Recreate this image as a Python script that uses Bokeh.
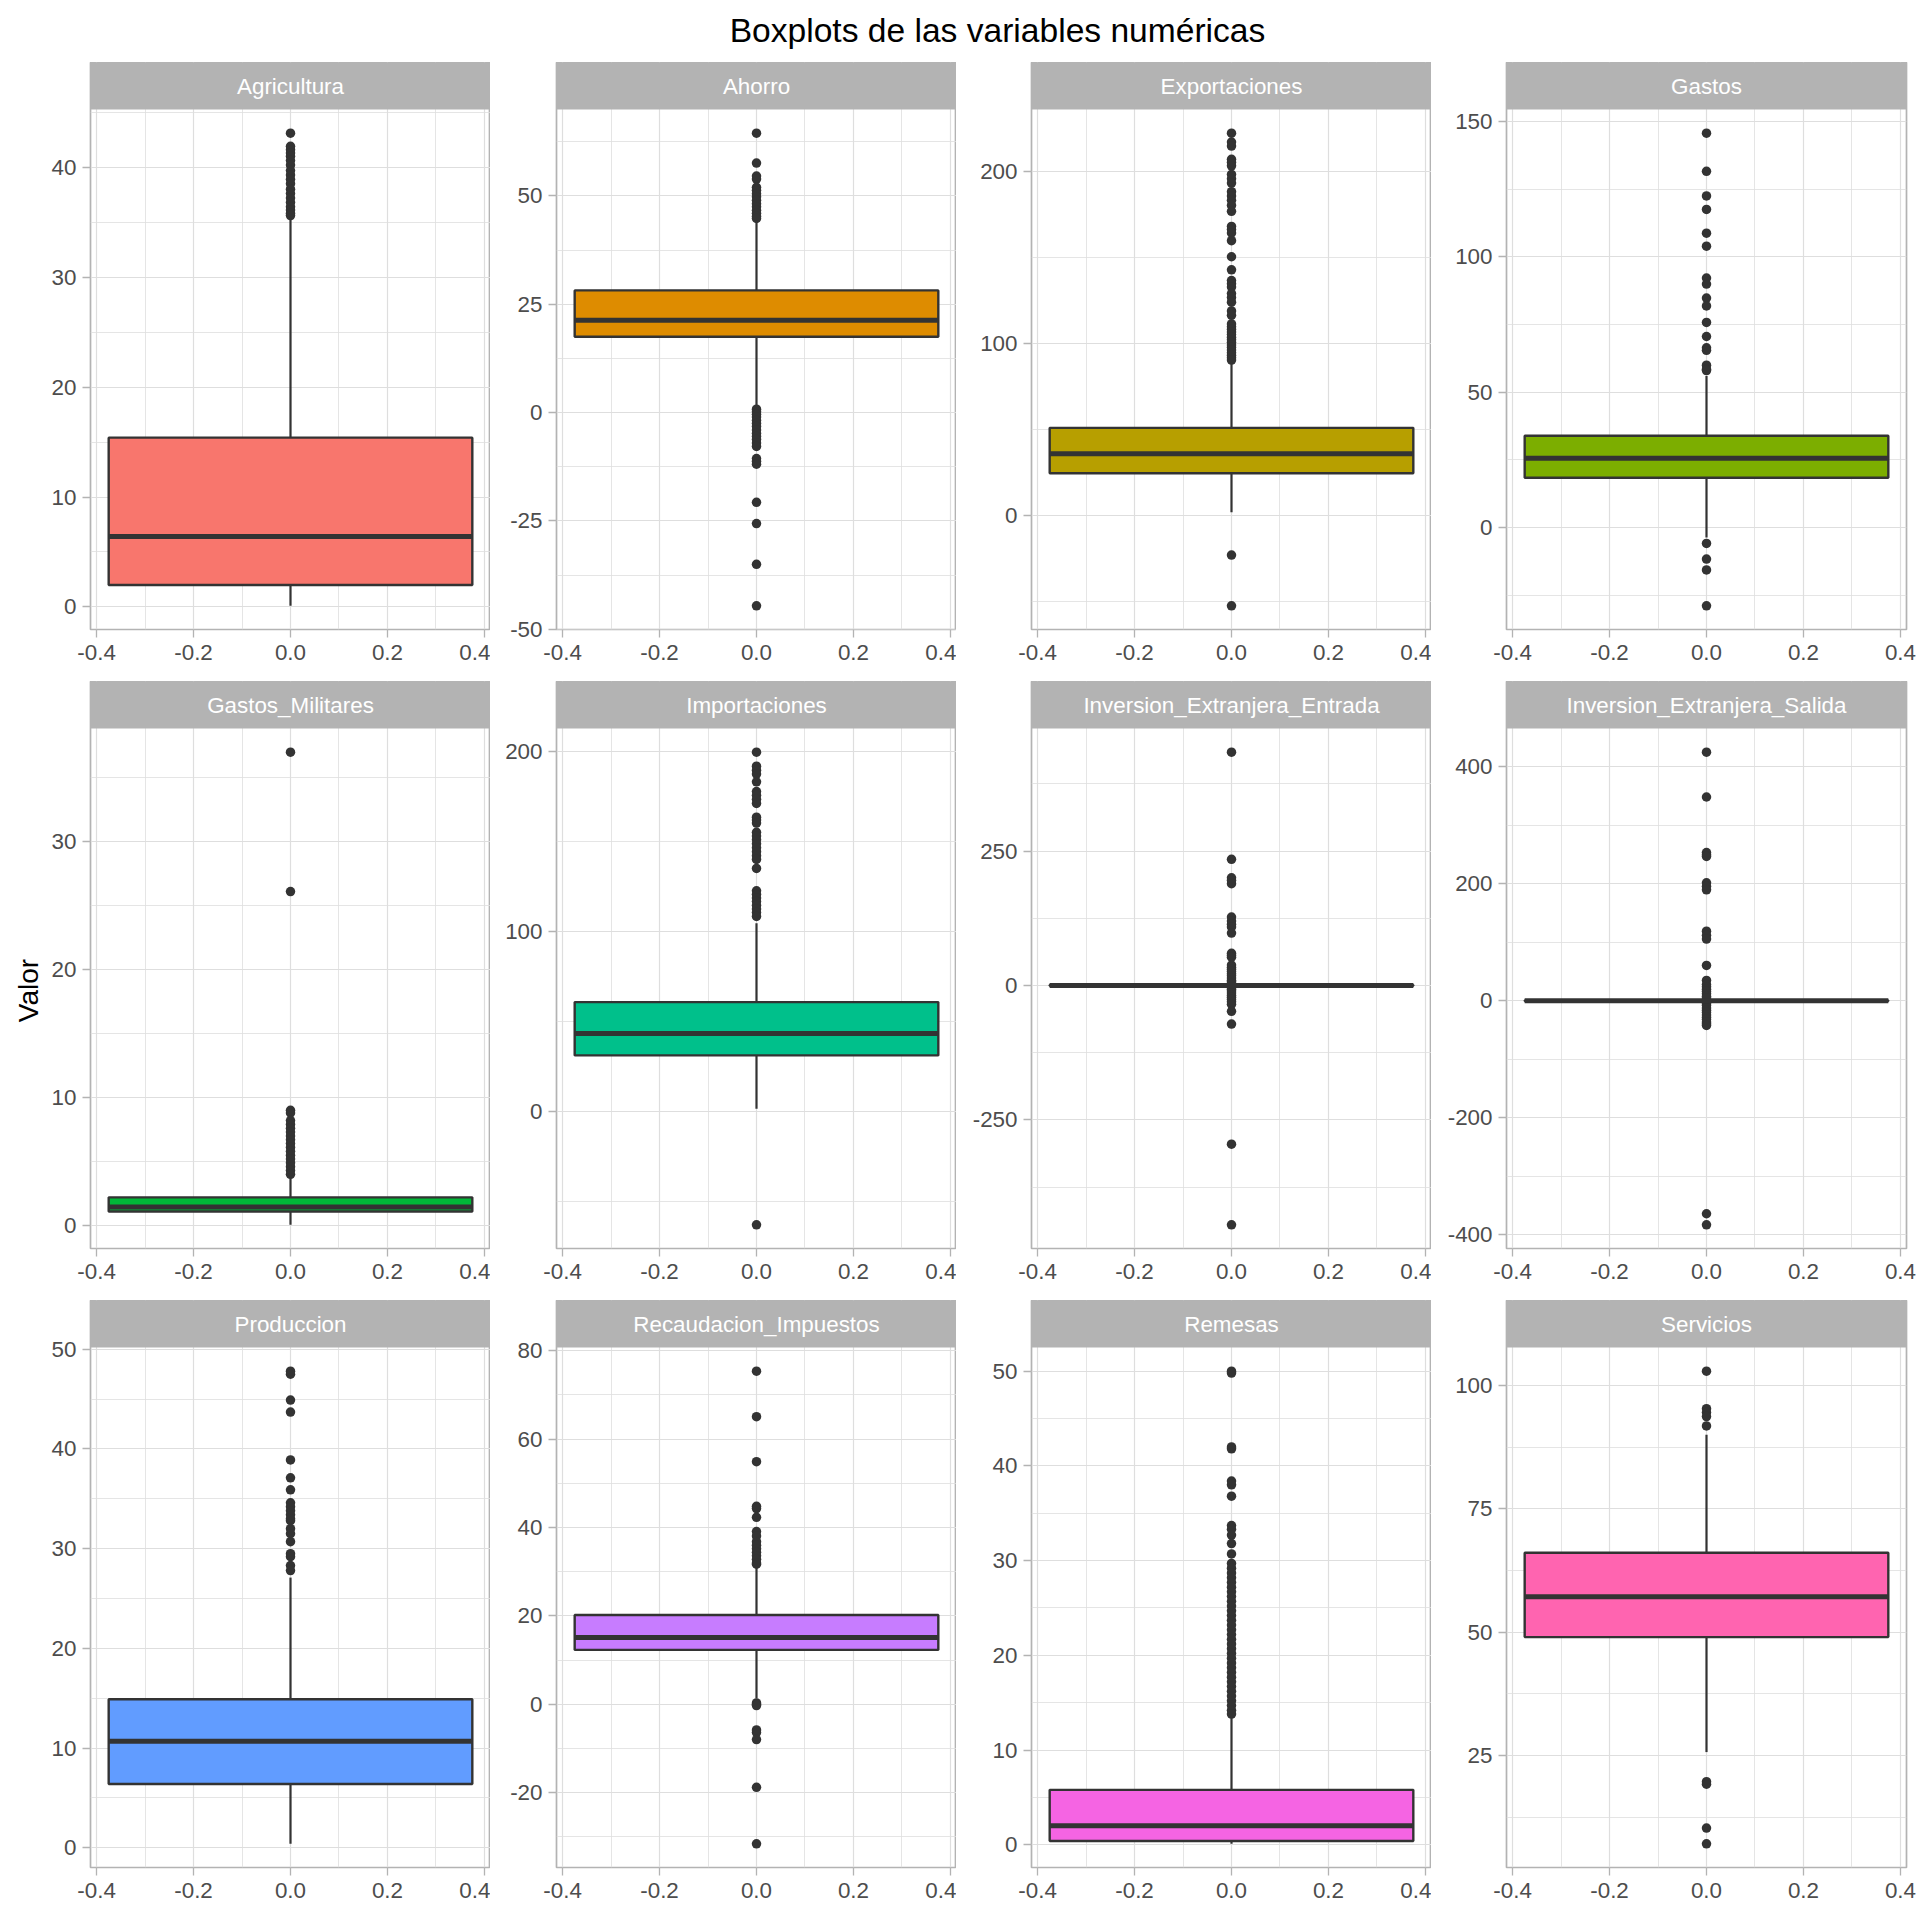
import math
from bokeh.plotting import figure
from bokeh.layouts import row, column
from bokeh.models import Range1d, FixedTicker, NumeralTickFormatter, Label
from bokeh.embed import file_html
from bokeh.resources import INLINE

# ---------------- data ----------------
variables = ["Agricultura", "Ahorro", "Exportaciones", "Gastos",
             "Gastos_Militares", "Importaciones", "Inversion_Extranjera_Entrada",
             "Inversion_Extranjera_Salida", "Produccion", "Recaudacion_Impuestos",
             "Remesas", "Servicios"]

q1 = [2.0, 17.5, 24.4, 18.4, 1.1, 31.1, -0.5, -0.4, 6.4, 12.3, 0.4, 49.0]
medians = [6.4, 21.3, 35.7, 25.6, 1.45, 43.2, 0.1, 0.05, 10.7, 15.1, 2.0, 57.2]
q3 = [15.4, 28.2, 50.8, 33.9, 2.2, 60.7, 0.9, 0.6, 14.9, 20.2, 5.8, 66.1]
whisker_low = [0.1, 1.5, 1.8, -3.7, 0.05, 1.5, -2.5, -2.0, 0.4, 1.3, 0.1, 25.7]
whisker_high = [35.4, 44.0, 89.5, 56.0, 3.8, 104.5, 3.0, 2.1, 27.1, 31.3, 13.4, 90.0]

out_agricultura = [43.1, 41.9, 41.6, 41.3, 41.0, 40.6, 40.2, 39.7, 39.3, 38.9,
                   38.5, 38.0, 37.6, 37.2, 36.8, 36.4, 36.1, 35.8, 35.6]
out_ahorro = [64.5, 57.6, 54.6, 53.9, 52.0, 51.3, 50.5, 49.8, 49.0, 48.2, 47.5,
              46.7, 46.0, 45.3, 44.8, 0.8, 0.2, -0.4, -1.0, -1.8, -2.5, -3.2,
              -4.0, -4.8, -5.5, -6.2, -7.0, -7.8, -10.6, -11.2, -11.9, -20.7,
              -25.6, -35.0, -44.6]
out_exportaciones = [222.0, 216.8, 214.5, 206.8, 205.0, 203.0, 198.0, 195.5,
                     193.0, 188.0, 185.5, 183.0, 180.0, 176.6, 167.8, 166.0,
                     164.0, 159.5, 150.2, 142.6, 136.4, 134.5, 132.6, 128.8,
                     126.5, 123.8, 118.7, 116.2, 111.2, 109.5, 108.0, 106.5,
                     105.0, 103.5, 102.0, 100.5, 99.0, 97.5, 96.0, 94.5, 93.0,
                     91.5, 90.2, -23.1, -52.6]
out_gastos = [145.8, 131.7, 122.6, 117.6, 108.8, 104.0, 92.2, 90.0, 84.8, 81.9,
              75.8, 70.6, 66.4, 65.5, 60.0, 58.5, 58.0, -5.9, -11.7, -15.7, -29.0]
out_gastos_militares = [37.0, 26.1, 9.0, 8.8, 8.2, 7.9, 7.6, 7.3, 7.0, 6.7, 6.4,
                        6.1, 5.8, 5.5, 5.2, 4.9, 4.6, 4.3, 4.0]
out_importaciones = [199.5, 191.7, 189.5, 187.3, 183.0, 177.6, 175.5, 173.3,
                     171.0, 163.4, 161.8, 160.1, 155.0, 152.9, 150.8, 148.6,
                     146.4, 144.2, 142.0, 139.9, 134.9, 122.5, 120.5, 118.5,
                     116.5, 114.4, 112.4, 110.4, 108.3, -63.0]
out_ie_entrada = [434.0, 234.6, 200.4, 196.0, 189.5, 127.3, 120.0, 114.0, 109.0,
                  97.5, 60.0, 56.0, 52.6, 38.0, 34.0, 30.0, 26.0, 22.0, 18.0,
                  14.0, 10.0, 7.0, 4.0, -4.0, -7.0, -10.0, -14.0, -18.0, -22.0,
                  -26.0, -30.0, -35.0, -48.0, -71.6, -295.0, -445.0]
out_ie_salida = [425.3, 348.6, 253.7, 250.0, 247.0, 201.9, 196.0, 189.8, 119.1,
                 112.0, 105.7, 60.6, 35.0, 28.0, 24.0, 20.0, 16.0, 12.0, 8.0,
                 5.0, -5.0, -8.0, -12.0, -16.0, -20.0, -24.0, -28.0, -32.0,
                 -36.0, -39.0, -42.0, -364.0, -383.0]
out_produccion = [47.8, 47.5, 44.9, 43.7, 38.9, 37.1, 35.9, 34.6, 34.2, 33.8,
                  33.4, 33.0, 32.8, 32.0, 31.5, 30.7, 29.5, 29.2, 28.3, 27.8]
out_recaudacion = [75.4, 65.1, 54.9, 44.8, 44.3, 42.3, 39.1, 38.1, 36.8, 36.0,
                   35.2, 34.4, 33.6, 32.8, 32.0, 31.7, 0.3, 0.0, -0.3, -5.8,
                   -6.4, -8.0, -18.8, -31.6]
out_remesas = [50.0, 49.8, 42.0, 41.8, 38.4, 38.0, 36.8, 33.7, 33.3, 32.7, 31.8,
               30.7, 29.7, 29.2, 28.7, 28.2, 27.7, 27.2, 26.7, 26.2, 25.7, 25.2,
               24.7, 24.2, 23.7, 23.2, 22.7, 22.2, 21.7, 21.2, 20.7, 20.2, 19.7,
               19.2, 18.7, 18.2, 17.7, 17.2, 16.7, 16.2, 15.7, 15.2, 14.7, 14.2,
               13.8]
out_servicios = [102.9, 95.3, 94.5, 93.7, 91.8, 19.7, 19.2, 10.3, 7.1]

outliers = [out_agricultura, out_ahorro, out_exportaciones, out_gastos,
            out_gastos_militares, out_importaciones, out_ie_entrada,
            out_ie_salida, out_produccion, out_recaudacion, out_remesas,
            out_servicios]

y_ticks = [[0, 10, 20, 30, 40], [-50, -25, 0, 25, 50], [0, 100, 200],
           [0, 50, 100, 150], [0, 10, 20, 30], [0, 100, 200], [-250, 0, 250],
           [-400, -200, 0, 200, 400], [0, 10, 20, 30, 40, 50],
           [-20, 0, 20, 40, 60, 80], [0, 10, 20, 30, 40, 50], [25, 50, 75, 100]]

x_ticks = [-0.4, -0.2, 0.0, 0.2, 0.4]
x_minor = [-0.3, -0.1, 0.1, 0.3]

fill_colors = ["#F8766D", "#DE8C00", "#B79F00", "#7CAE00", "#00BA38", "#00C08B",
               "#00BFC4", "#00B4F0", "#619CFF", "#C77CFF", "#F564E3", "#FF64B0"]

title_text = "Boxplots de las variables numéricas"
y_label = "Valor"

# ---------------- styling ----------------
FONT = "Liberation Sans"
PANEL_W, PANEL_H, STRIP_H = 400, 520, 47
BOTTOM = 52
TITLE_H = 62
VALOR_W = 48
LEFT_BORDERS = [89 - VALOR_W, 66, 75, 75]
RIGHT_BORDERS = [0, 0, 0, 15]
BOX_HALF = 0.375
X_LIM = 0.4125
DARK = "#333333"
GREY70 = "#B3B3B3"
GRID = "#DEDEDE"
TICK_FS = "22.4px"


def make_panel(i, col):
    vals = [q1[i], medians[i], q3[i], whisker_low[i], whisker_high[i]] + outliers[i]
    lo, hi = min(vals), max(vals)
    pad = 0.05 * (hi - lo)
    ylo, yhi = lo - pad, hi + pad
    strip = (yhi - ylo) * STRIP_H / PANEL_H
    p = figure(frame_width=PANEL_W, frame_height=PANEL_H + STRIP_H,
               x_range=Range1d(-X_LIM, X_LIM), y_range=Range1d(ylo, yhi + strip),
               output_backend="svg", toolbar_location=None, title=None,
               min_border_left=LEFT_BORDERS[col], min_border_right=RIGHT_BORDERS[col],
               min_border_top=0, min_border_bottom=BOTTOM)
    p.background_fill_color = "white"
    p.border_fill_color = "white"

    out = outliers[i]
    p.scatter(x=[0] * len(out), y=out, size=9.5, fill_color=DARK, line_color=None)
    p.segment(x0=[0, 0], y0=[q3[i], q1[i]], x1=[0, 0], y1=[whisker_high[i], whisker_low[i]],
              line_color=DARK, line_width=2.2)
    p.quad(left=[-BOX_HALF], right=[BOX_HALF], bottom=[q1[i]], top=[q3[i]],
           fill_color=fill_colors[i], line_color=DARK, line_width=2.4)
    p.segment(x0=[-BOX_HALF], y0=[medians[i]], x1=[BOX_HALF], y1=[medians[i]],
              line_color=DARK, line_width=5)

    # strip (facet label)
    p.quad(left=[-X_LIM], right=[X_LIM], bottom=[yhi], top=[yhi + strip],
           fill_color=GREY70, line_color=None)
    p.add_layout(Label(x=0, y=yhi + strip / 2, text=variables[i], text_align="center",
                       text_baseline="middle", text_color="white",
                       text_font_size=TICK_FS, text_font=FONT))

    yt = y_ticks[i]
    step = yt[1] - yt[0]
    ym = [t - step / 2 for t in yt] + [yt[-1] + step / 2]
    ym = [m for m in ym if ylo <= m <= yhi]
    xtk = FixedTicker(ticks=x_ticks, minor_ticks=x_minor)
    ytk = FixedTicker(ticks=yt, minor_ticks=ym)
    p.xaxis.ticker = xtk
    p.xgrid.ticker = xtk
    p.yaxis.ticker = ytk
    p.ygrid.ticker = ytk
    p.xaxis.formatter = NumeralTickFormatter(format="0.0")
    p.yaxis.formatter = NumeralTickFormatter(format="0")
    for ax in p.axis:
        ax.axis_line_color = None
        ax.major_tick_line_color = GREY70
        ax.major_tick_line_width = 1.3
        ax.major_tick_out = 8
        ax.major_tick_in = 0
        ax.minor_tick_line_color = None
        ax.major_label_text_font_size = TICK_FS
        ax.major_label_text_color = "#4D4D4D"
        ax.major_label_text_font = FONT
    p.xaxis.major_label_standoff = 7
    p.yaxis.major_label_standoff = 6
    p.grid.grid_line_color = GRID
    p.grid.grid_line_width = 1.2
    p.grid.minor_grid_line_color = GRID
    p.grid.minor_grid_line_width = 0.8
    p.outline_line_color = GREY70
    p.outline_line_width = 1.7
    return p


rows = []
for r in range(3):
    rows.append(row(*[make_panel(r * 4 + c, c) for c in range(4)]))
grid_block = column(*rows)
block_h = 3 * (PANEL_H + STRIP_H + BOTTOM)

# left y-axis title
valor = figure(width=VALOR_W, height=block_h, x_range=Range1d(0, VALOR_W),
               y_range=Range1d(0, block_h), x_axis_type=None, y_axis_type=None,
               output_backend="svg", toolbar_location=None, title=None,
               min_border=0, min_border_left=0, min_border_right=0,
               min_border_top=0, min_border_bottom=0)
valor.outline_line_color = None
valor.grid.visible = False
valor.add_layout(Label(x=27.5, y=block_h - (990 - TITLE_H), text=y_label, angle=math.pi / 2,
                       text_align="center", text_baseline="middle", text_color="black",
                       text_font_size="28px", text_font=FONT))

# overall title
title = figure(width=1920, height=TITLE_H, x_range=Range1d(0, 1920), y_range=Range1d(0, TITLE_H),
               x_axis_type=None, y_axis_type=None, output_backend="svg",
               toolbar_location=None, title=None,
               min_border=0, min_border_left=0, min_border_right=0,
               min_border_top=0, min_border_bottom=0)
title.outline_line_color = None
title.grid.visible = False
title.add_layout(Label(x=997, y=TITLE_H - 30, text=title_text, text_align="center",
                       text_baseline="middle", text_color="black",
                       text_font_size="33.6px", text_font=FONT))

layout = column(title, row(valor, grid_block))

with open("out.html", "w") as f:
    f.write(file_html(layout, INLINE))
